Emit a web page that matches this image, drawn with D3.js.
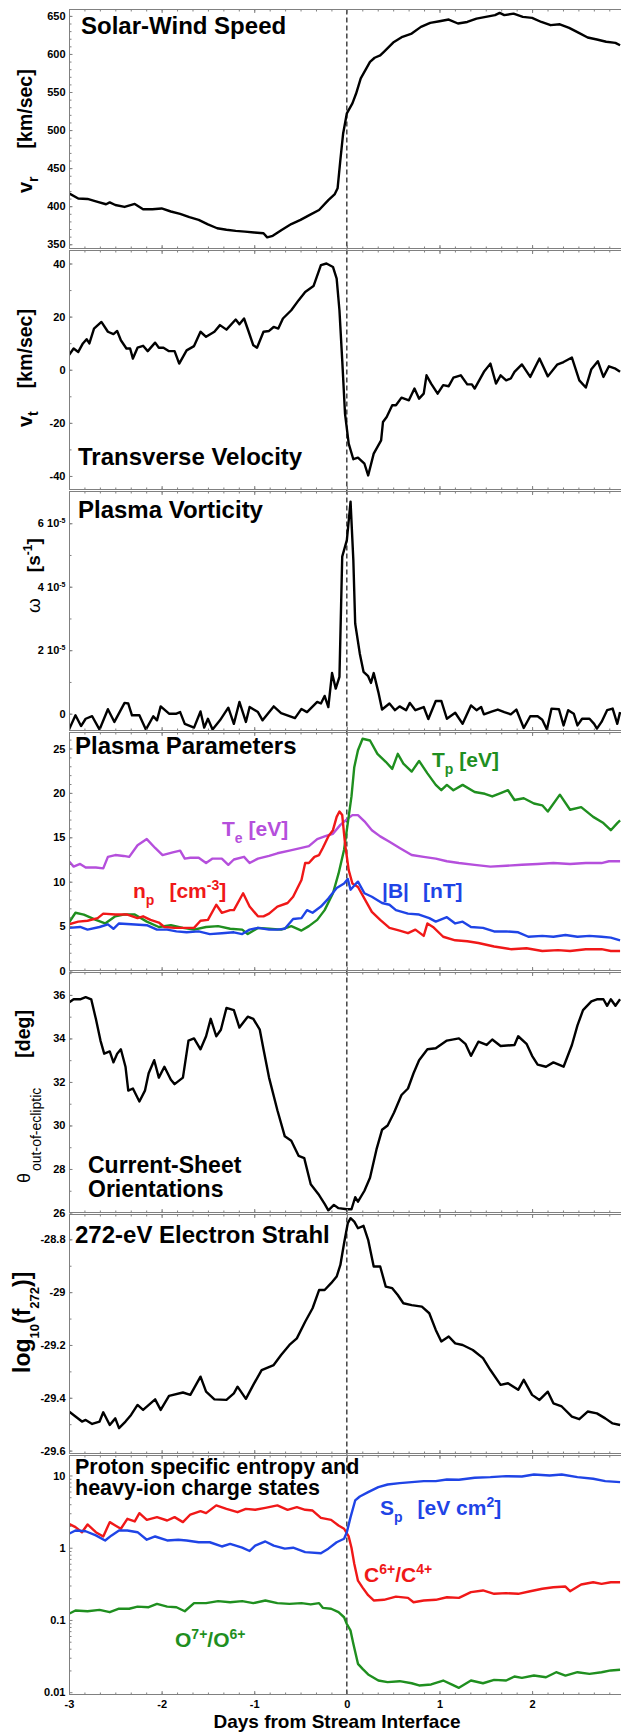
<!DOCTYPE html>
<html>
<head>
<meta charset="utf-8">
<script src="https://cdn.jsdelivr.net/npm/d3@7"></script>
<style>
body { margin: 0; background: #fff; }
svg { display: block; }
svg text { font-family: "Liberation Sans", Arial, Helvetica, sans-serif; font-weight: bold; }
</style>
</head>
<body>
<svg width="621" height="1733"></svg>
<script>
// ---- data, [day from stream interface, value] ----
const speed = [[-3.00,417],[-2.90,410],[-2.80,409.5],[-2.70,406],[-2.60,402.5],[-2.56,405],[-2.50,401.5],[-2.40,399],[-2.29,403],[-2.20,396],[-2.10,396],[-2.00,397],[-1.90,393],[-1.80,390],[-1.70,385.5],[-1.60,382],[-1.50,376],[-1.40,371],[-1.30,369],[-1.20,367.5],[-1.10,366.5],[-1.00,365.5],[-0.90,364.5],[-0.86,359],[-0.80,361],[-0.70,369],[-0.60,376.5],[-0.50,382],[-0.40,388.5],[-0.30,395],[-0.20,408],[-0.13,416],[-0.10,423.5],[-0.07,460.7],[-0.04,495.6],[0.00,522],[0.06,535],[0.10,548],[0.15,568],[0.20,578.7],[0.25,589.6],[0.30,595],[0.36,598],[0.40,602.8],[0.50,615],[0.60,622.5],[0.70,626.8],[0.80,635.6],[0.90,640.8],[1.00,643],[1.10,645.2],[1.20,640],[1.30,642],[1.40,646.5],[1.50,648.7],[1.60,651],[1.65,654],[1.70,651],[1.80,653],[1.90,648.7],[2.00,647.4],[2.10,642],[2.20,637.8],[2.30,639],[2.40,634.3],[2.50,628],[2.60,621.6],[2.70,619],[2.80,616],[2.90,614.6],[2.95,611.5]];

const vt = [[-3.00,5.5],[-2.95,8],[-2.90,6.7],[-2.85,9.9],[-2.81,11.5],[-2.78,9.9],[-2.73,15.5],[-2.65,18],[-2.58,14.3],[-2.52,13.4],[-2.48,14.6],[-2.44,11.1],[-2.38,8],[-2.34,8],[-2.31,4.2],[-2.26,8.3],[-2.20,9],[-2.15,7],[-2.07,10.2],[-2.03,8.3],[-1.98,8.3],[-1.92,7],[-1.86,7],[-1.81,2.3],[-1.73,7.3],[-1.65,8.9],[-1.58,14.3],[-1.52,12.4],[-1.43,14.3],[-1.37,16.8],[-1.30,15.1],[-1.20,18.9],[-1.16,17.1],[-1.11,19.3],[-1.06,14.3],[-1.01,9.2],[-0.97,8.3],[-0.90,14.3],[-0.84,14.6],[-0.79,16.1],[-0.74,15.5],[-0.69,19.3],[-0.60,22.4],[-0.52,26.2],[-0.45,29.3],[-0.36,31.5],[-0.28,39.4],[-0.22,40],[-0.15,38.7],[-0.11,34.3],[-0.08,22.4],[-0.05,3.6],[-0.02,-16.5],[0.02,-27.8],[0.07,-33.7],[0.12,-33.1],[0.19,-35.4],[0.23,-39.8],[0.29,-31.6],[0.37,-26.6],[0.39,-19.7],[0.43,-17.8],[0.49,-13.4],[0.53,-13.4],[0.59,-10.5],[0.67,-11.5],[0.73,-7.1],[0.78,-10.9],[0.83,-9],[0.86,-2.1],[0.91,-5.2],[0.98,-9],[1.04,-5.8],[1.10,-6.2],[1.15,-3],[1.23,-2.1],[1.30,-5.5],[1.35,-5.5],[1.38,-7.1],[1.48,-0.8],[1.55,2.3],[1.61,-5.2],[1.66,-2.1],[1.72,-4],[1.77,-3.3],[1.81,-0.8],[1.89,2],[1.98,-2.7],[2.08,4.2],[2.17,-2.5],[2.27,1.9],[2.34,2.9],[2.43,4.6],[2.51,-4],[2.58,-6.7],[2.64,0.2],[2.71,3.2],[2.77,-2.7],[2.83,1.3],[2.90,0.4],[2.95,-0.8]];

// plasma vorticity in units of 1e-5 s^-1
const vorticity = [[-3.00,-0.5],[-2.93,-0.05],[-2.87,-0.39],[-2.82,-0.16],[-2.75,-0.08],[-2.67,-0.5],[-2.58,0.14],[-2.51,-0.26],[-2.40,0.34],[-2.36,0.32],[-2.32,-0.05],[-2.24,-0.05],[-2.17,-0.5],[-2.09,-0.08],[-2.05,-0.21],[-2.01,0.23],[-1.92,0],[-1.84,0],[-1.80,0.05],[-1.75,-0.32],[-1.65,-0.44],[-1.58,0.07],[-1.54,-0.44],[-1.50,-0.16],[-1.45,-0.5],[-1.37,-0.21],[-1.28,0.19],[-1.22,-0.32],[-1.16,0.37],[-1.09,-0.26],[-1.05,0.21],[-0.96,0.05],[-0.91,-0.21],[-0.79,0.23],[-0.71,0.02],[-0.56,-0.14],[-0.49,0.15],[-0.43,0.05],[-0.32,0.37],[-0.28,0.32],[-0.24,0.56],[-0.20,0.21],[-0.16,1.28],[-0.12,0.79],[-0.08,1.16],[-0.05,4.95],[0.00,5.47],[0.04,6.68],[0.07,4.84],[0.09,2.84],[0.14,1.89],[0.18,1.32],[0.23,1.18],[0.26,0.97],[0.29,1.28],[0.34,0.68],[0.38,0.13],[0.46,0.32],[0.52,0.11],[0.57,0.23],[0.64,0.11],[0.68,0.34],[0.74,0.11],[0.83,0.21],[0.88,-0.17],[0.96,0.4],[1.02,0.4],[1.08,-0.16],[1.17,0.03],[1.25,-0.32],[1.34,0.26],[1.40,0.11],[1.45,0.21],[1.48,-0.02],[1.57,0.07],[1.63,0.13],[1.70,0.05],[1.77,-0.02],[1.83,0.13],[1.91,-0.45],[1.98,-0.08],[2.06,-0.08],[2.11,-0.19],[2.16,-0.5],[2.21,0.16],[2.29,0.14],[2.34,-0.37],[2.39,0.11],[2.45,0],[2.49,-0.37],[2.54,-0.16],[2.62,-0.16],[2.67,-0.32],[2.70,-0.47],[2.75,-0.26],[2.81,0.11],[2.87,0.16],[2.92,-0.32],[2.95,0.05]];

const tp = [[-3.00,5.4],[-2.93,6.5],[-2.84,6.3],[-2.71,5.7],[-2.61,5.3],[-2.50,6.1],[-2.41,6.3],[-2.29,6.3],[-2.16,5.5],[-2.03,4.9],[-1.90,5.1],[-1.77,4.8],[-1.65,4.6],[-1.52,4.9],[-1.39,5.0],[-1.26,4.7],[-1.13,4.6],[-1.07,4.1],[-0.96,4.8],[-0.84,4.7],[-0.71,4.6],[-0.60,5.0],[-0.49,4.5],[-0.41,5.0],[-0.32,5.7],[-0.24,6.8],[-0.15,8.7],[-0.09,10.9],[-0.03,13.6],[0.01,16.6],[0.05,19.6],[0.08,22.9],[0.12,24.8],[0.17,26.1],[0.25,25.9],[0.33,24.4],[0.42,23.5],[0.49,22.7],[0.55,24.4],[0.61,23.3],[0.70,22.4],[0.78,23.6],[0.87,22.2],[0.96,20.9],[1.02,20.3],[1.08,20.9],[1.15,20.3],[1.25,20.9],[1.38,20.1],[1.49,19.9],[1.57,19.6],[1.64,19.9],[1.74,20.3],[1.81,19.2],[1.91,19.4],[2.02,18.8],[2.11,18.6],[2.17,17.9],[2.30,19.8],[2.41,18.1],[2.53,18.4],[2.66,17.3],[2.77,16.6],[2.85,15.8],[2.92,16.6],[2.95,16.9]];

const te = [[-3.00,12.3],[-2.95,11.7],[-2.88,12.0],[-2.82,11.6],[-2.71,11.6],[-2.63,11.5],[-2.58,12.8],[-2.50,13.0],[-2.41,12.9],[-2.35,12.8],[-2.26,14.1],[-2.16,14.8],[-2.07,13.8],[-1.99,13.0],[-1.88,13.3],[-1.80,13.5],[-1.75,12.6],[-1.69,12.7],[-1.60,12.7],[-1.52,12.1],[-1.45,12.6],[-1.35,12.6],[-1.28,11.9],[-1.22,12.5],[-1.11,12.8],[-1.05,12.1],[-0.96,12.6],[-0.84,12.9],[-0.75,13.2],[-0.62,13.5],[-0.49,13.8],[-0.41,14.0],[-0.32,14.8],[-0.24,15.1],[-0.15,15.4],[-0.07,16.4],[0.01,17.1],[0.06,17.5],[0.12,17.5],[0.19,16.8],[0.27,15.8],[0.36,15.1],[0.46,14.5],[0.57,13.8],[0.70,13.0],[0.83,12.8],[0.96,12.6],[1.08,12.3],[1.21,12.1],[1.38,11.9],[1.55,11.7],[1.72,11.8],[1.89,11.9],[2.06,12.0],[2.23,12.1],[2.41,12.0],[2.58,12.1],[2.75,12.1],[2.83,12.3],[2.95,12.3]];

const np = [[-3.00,5.2],[-2.90,5.5],[-2.80,5.6],[-2.69,5.9],[-2.63,6.4],[-2.50,6.3],[-2.37,6.3],[-2.26,5.9],[-2.20,6.1],[-2.12,5.7],[-2.03,5.4],[-1.97,4.9],[-1.86,4.8],[-1.73,4.8],[-1.65,4.8],[-1.58,5.6],[-1.50,5.7],[-1.41,7.4],[-1.35,6.5],[-1.26,6.8],[-1.22,6.8],[-1.12,8.7],[-1.05,7.2],[-0.96,6.1],[-0.90,6.1],[-0.84,6.4],[-0.75,7.2],[-0.64,7.6],[-0.58,8.3],[-0.49,10.2],[-0.45,12.1],[-0.41,12.1],[-0.35,12.8],[-0.30,13.0],[-0.26,13.8],[-0.20,15.1],[-0.15,15.8],[-0.11,17.3],[-0.08,17.9],[-0.05,17.5],[-0.02,14.3],[0.02,11.3],[0.06,9.8],[0.12,9.4],[0.19,8.1],[0.27,6.6],[0.36,5.7],[0.46,4.8],[0.57,4.5],[0.66,4.2],[0.74,4.6],[0.83,3.9],[0.87,5.3],[0.93,4.9],[1.04,3.8],[1.17,3.4],[1.30,3.3],[1.42,3.1],[1.59,2.7],[1.77,2.4],[1.94,2.5],[2.11,2.2],[2.28,2.3],[2.41,2.2],[2.58,2.4],[2.75,2.4],[2.85,2.2],[2.95,2.2]];

const bmag = [[-3.00,4.8],[-2.88,4.9],[-2.80,4.6],[-2.67,4.9],[-2.58,5.2],[-2.52,4.7],[-2.46,5.3],[-2.33,5.2],[-2.16,5.1],[-2.05,4.6],[-1.94,4.6],[-1.84,4.4],[-1.73,4.3],[-1.60,4.4],[-1.48,4.1],[-1.35,4.2],[-1.22,4.3],[-1.13,4.1],[-1.05,4.6],[-0.96,4.8],[-0.84,4.6],[-0.75,4.6],[-0.67,4.7],[-0.58,5.8],[-0.49,5.9],[-0.43,6.8],[-0.37,6.5],[-0.28,7.2],[-0.20,8.1],[-0.11,9.3],[-0.03,9.8],[0.01,10.3],[0.04,9.1],[0.10,9.8],[0.12,10.0],[0.19,8.7],[0.27,8.3],[0.38,7.6],[0.46,7.4],[0.53,6.8],[0.66,6.4],[0.78,6.3],[0.89,5.9],[0.96,5.5],[1.08,6.0],[1.17,5.3],[1.25,5.5],[1.34,4.9],[1.47,4.8],[1.59,4.4],[1.72,4.4],[1.85,4.3],[1.96,3.8],[2.11,3.9],[2.23,3.8],[2.36,4.0],[2.49,3.8],[2.62,3.9],[2.75,3.8],[2.85,3.7],[2.95,3.4]];

const theta = [[-3.00,35.65],[-2.95,35.8],[-2.88,35.8],[-2.82,35.9],[-2.76,35.8],[-2.71,34.9],[-2.66,33.9],[-2.62,33.3],[-2.56,33.4],[-2.52,32.9],[-2.48,33.3],[-2.44,33.5],[-2.39,32.7],[-2.36,31.6],[-2.31,31.7],[-2.24,31.1],[-2.18,31.6],[-2.14,32.4],[-2.08,33.0],[-2.03,32.2],[-1.97,32.7],[-1.90,32.1],[-1.86,31.9],[-1.77,32.2],[-1.71,33.9],[-1.65,34.0],[-1.58,33.5],[-1.52,34.1],[-1.47,34.9],[-1.41,34.1],[-1.36,34.4],[-1.30,35.4],[-1.22,35.3],[-1.16,34.5],[-1.07,35.0],[-1.01,34.9],[-0.94,34.4],[-0.90,33.5],[-0.84,32.2],[-0.75,30.7],[-0.67,29.5],[-0.60,29.3],[-0.52,28.6],[-0.46,28.5],[-0.39,27.3],[-0.30,26.8],[-0.24,26.4],[-0.20,26.1],[-0.14,26.35],[-0.09,26.2],[0.00,26.15],[0.05,26.15],[0.09,26.7],[0.12,26.5],[0.19,27.0],[0.25,27.6],[0.32,28.9],[0.38,29.8],[0.44,30.0],[0.51,30.6],[0.59,31.4],[0.66,31.7],[0.72,32.4],[0.78,33.0],[0.87,33.5],[0.96,33.55],[1.08,33.9],[1.21,34.0],[1.28,33.75],[1.34,33.2],[1.42,33.85],[1.51,33.7],[1.57,33.95],[1.66,33.65],[1.81,33.7],[1.85,34.1],[1.94,33.75],[2.00,33.2],[2.06,32.8],[2.15,32.7],[2.23,32.9],[2.34,32.7],[2.43,33.7],[2.49,34.6],[2.55,35.3],[2.64,35.7],[2.70,35.8],[2.77,35.8],[2.81,35.5],[2.85,35.8],[2.90,35.5],[2.95,35.8]];

const strahl = [[-3.00,-29.452],[-2.93,-29.471],[-2.86,-29.49],[-2.82,-29.484],[-2.75,-29.499],[-2.67,-29.49],[-2.63,-29.455],[-2.56,-29.503],[-2.50,-29.478],[-2.46,-29.515],[-2.39,-29.49],[-2.33,-29.465],[-2.26,-29.427],[-2.20,-29.446],[-2.07,-29.406],[-2.01,-29.446],[-1.92,-29.393],[-1.77,-29.38],[-1.69,-29.389],[-1.58,-29.32],[-1.52,-29.377],[-1.43,-29.406],[-1.30,-29.408],[-1.22,-29.383],[-1.18,-29.358],[-1.09,-29.404],[-1.01,-29.351],[-0.92,-29.295],[-0.79,-29.276],[-0.71,-29.238],[-0.62,-29.2],[-0.54,-29.175],[-0.45,-29.112],[-0.37,-29.061],[-0.30,-28.992],[-0.24,-28.992],[-0.17,-28.966],[-0.11,-28.941],[-0.07,-28.897],[-0.03,-28.815],[0.01,-28.739],[0.04,-28.72],[0.08,-28.733],[0.12,-28.758],[0.18,-28.749],[0.23,-28.802],[0.29,-28.903],[0.36,-28.903],[0.42,-28.979],[0.49,-28.985],[0.55,-29.011],[0.61,-29.042],[0.70,-29.049],[0.81,-29.055],[0.89,-29.08],[0.96,-29.143],[1.02,-29.187],[1.10,-29.168],[1.17,-29.194],[1.25,-29.2],[1.36,-29.219],[1.47,-29.25],[1.55,-29.295],[1.66,-29.351],[1.74,-29.345],[1.85,-29.37],[1.91,-29.332],[2.00,-29.389],[2.08,-29.408],[2.17,-29.377],[2.23,-29.421],[2.32,-29.433],[2.43,-29.471],[2.51,-29.481],[2.60,-29.452],[2.70,-29.459],[2.79,-29.478],[2.87,-29.497],[2.95,-29.503]];

const entropy = [[-3.00,1.56],[-2.93,1.73],[-2.82,1.69],[-2.71,1.48],[-2.61,1.26],[-2.54,1.48],[-2.46,1.73],[-2.37,1.73],[-2.26,1.64],[-2.16,1.29],[-2.07,1.43],[-1.94,1.26],[-1.82,1.29],[-1.73,1.26],[-1.60,1.19],[-1.48,1.19],[-1.35,1.04],[-1.26,1.13],[-1.13,1.0],[-1.05,0.90],[-0.99,1.07],[-0.88,1.22],[-0.79,1.07],[-0.67,0.97],[-0.58,1.0],[-0.45,0.87],[-0.28,0.84],[-0.20,0.97],[-0.11,1.19],[-0.03,1.33],[0.00,1.64],[0.04,2.65],[0.09,4.51],[0.14,5.12],[0.23,5.87],[0.34,6.89],[0.44,7.5],[0.57,7.83],[0.70,8.09],[0.83,8.36],[0.96,8.36],[1.08,8.81],[1.21,8.71],[1.38,9.29],[1.55,9.48],[1.72,9.79],[1.89,9.68],[2.02,10.3],[2.19,10.0],[2.32,10.3],[2.49,9.48],[2.66,9.0],[2.79,8.36],[2.95,8.09]];

const cRatio = [[-3.00,2.14],[-2.93,1.93],[-2.86,1.64],[-2.80,2.1],[-2.71,1.64],[-2.63,1.43],[-2.56,2.26],[-2.50,2.03],[-2.44,1.83],[-2.37,2.51],[-2.29,2.31],[-2.24,3.01],[-2.16,2.43],[-2.05,2.65],[-1.94,2.38],[-1.86,2.65],[-1.77,2.26],[-1.69,2.88],[-1.58,3.21],[-1.52,3.01],[-1.41,3.85],[-1.30,3.45],[-1.18,3.1],[-1.09,3.45],[-0.99,3.35],[-0.88,3.56],[-0.75,3.85],[-0.64,3.35],[-0.54,3.65],[-0.45,3.35],[-0.37,3.27],[-0.28,2.59],[-0.17,2.43],[-0.09,2.03],[-0.03,1.83],[0.02,1.43],[0.05,1.0],[0.08,0.6],[0.12,0.35],[0.17,0.28],[0.23,0.22],[0.29,0.186],[0.40,0.19],[0.53,0.21],[0.66,0.202],[0.72,0.176],[0.83,0.186],[0.96,0.19],[1.08,0.206],[1.21,0.202],[1.34,0.243],[1.47,0.256],[1.59,0.23],[1.72,0.235],[1.85,0.23],[1.98,0.25],[2.11,0.27],[2.23,0.284],[2.36,0.29],[2.41,0.25],[2.53,0.31],[2.66,0.333],[2.75,0.316],[2.85,0.333],[2.95,0.333]];

const oRatio = [[-3.00,0.122],[-2.93,0.135],[-2.80,0.132],[-2.67,0.138],[-2.56,0.128],[-2.46,0.143],[-2.35,0.143],[-2.26,0.153],[-2.14,0.15],[-2.05,0.167],[-1.94,0.153],[-1.84,0.15],[-1.75,0.132],[-1.65,0.171],[-1.52,0.171],[-1.39,0.182],[-1.26,0.176],[-1.13,0.182],[-1.01,0.171],[-0.88,0.186],[-0.75,0.171],[-0.62,0.167],[-0.49,0.171],[-0.39,0.164],[-0.30,0.171],[-0.26,0.147],[-0.17,0.143],[-0.09,0.128],[-0.03,0.109],[0.00,0.088],[0.04,0.071],[0.07,0.047],[0.12,0.0247],[0.17,0.021],[0.23,0.0176],[0.34,0.0145],[0.44,0.0138],[0.57,0.0142],[0.70,0.0133],[0.78,0.0124],[0.91,0.0128],[1.04,0.0145],[1.13,0.0128],[1.21,0.0115],[1.34,0.0145],[1.47,0.0133],[1.59,0.0148],[1.72,0.0145],[1.81,0.0165],[1.89,0.0158],[2.02,0.017],[2.15,0.0161],[2.26,0.0189],[2.36,0.017],[2.49,0.0189],[2.62,0.0179],[2.75,0.0189],[2.85,0.02],[2.95,0.0204]];

// tick labels
const dayTicks = [-3, -2, -1, 0, 1, 2];
const speedTicks = [350, 400, 450, 500, 550, 600, 650];
const vtTicks = [-40, -20, 0, 20, 40];
const vortTicks = [0, 2, 4, 6];
const plasmaTicks = [0, 5, 10, 15, 20, 25];
const thetaTicks = [26, 28, 30, 32, 34, 36];
const strahlTicks = [-29.6, -29.4, -29.2, -29, -28.8];
const ratioTicks = [0.01, 0.1, 1, 10];

const GREEN = '#1f8f1f', RED = '#f01818', BLUE = '#1f44e6', PURPLE = '#b54fdc';
const grey = '#808080';

const svg = d3.select('svg');
const x = d3.scaleLinear().domain([-3, 2.96]).range([69, 621]);
const xMinor = d3.range(-18, 18).map(i => i / 6);

const panels = [
  {top: 9.5, bottom: 248.5, y: d3.scaleLinear().domain([344.4, 658.4]), major: speedTicks, minor: d3.range(350, 651, 10), lines: [[speed, '#000']]},
  {top: 250.5, bottom: 489.5, y: d3.scaleLinear().domain([-45.1, 44.9]), major: vtTicks, minor: d3.range(-40, 41, 10), lines: [[vt, '#000']]},
  {top: 491.5, bottom: 730.5, y: d3.scaleLinear().domain([-0.53, 7.0]), major: vortTicks, minor: d3.range(0, 7, 1), lines: [[vorticity, '#000']], sci: true},
  {top: 732.5, bottom: 970.5, y: d3.scaleLinear().domain([0, 26.8]), major: plasmaTicks, minor: d3.range(0, 27, 1), lines: [[te, PURPLE], [tp, GREEN], [np, RED], [bmag, BLUE]]},
  {top: 972.5, bottom: 1212.5, y: d3.scaleLinear().domain([26, 37.03]), major: thetaTicks, minor: d3.range(26, 37.5, 1), lines: [[theta, '#000']]},
  {top: 1214.5, bottom: 1453.5, y: d3.scaleLinear().domain([-29.611, -28.706]), major: strahlTicks, minor: d3.range(-296, -287).map(v => v / 10), lines: [[strahl, '#000']]},
  {top: 1455.5, bottom: 1694.5, y: d3.scaleLog().domain([0.00929, 18.9]), major: ratioTicks,
   minor: [0.01, 0.1, 1].flatMap(b => d3.range(2, 10).map(k => +(k * b).toPrecision(2))), lines: [[oRatio, GREEN], [cRatio, RED], [entropy, BLUE]]}
];

const defs = svg.append('defs');

// dashed stream-interface line
svg.append('line')
  .attr('x1', x(0)).attr('x2', x(0))
  .attr('y1', panels[0].top).attr('y2', panels[6].bottom)
  .attr('stroke', '#000').attr('stroke-width', 1.1)
  .attr('stroke-dasharray', '5,3');

function styleAxis(g) {
  g.select('.domain').remove();
  g.selectAll('line').attr('stroke', grey);
  g.selectAll('text').attr('font-family', null).attr('font-size', 11).attr('fill', '#000');
  g.attr('font-family', null);
}

panels.forEach((p, i) => {
  p.y.range([p.bottom, p.top]);
  const g = svg.append('g');

  defs.append('clipPath').attr('id', 'clip' + i)
    .append('rect').attr('x', 69).attr('y', p.top).attr('width', 560).attr('height', p.bottom - p.top);

  const line = d3.line().x(d => x(d[0])).y(d => p.y(d[1]));
  p.lines.forEach(([data, color]) => {
    g.append('path')
      .datum(data)
      .attr('clip-path', `url(#clip${i})`)
      .attr('fill', 'none')
      .attr('stroke', color)
      .attr('stroke-width', 2.4)
      .attr('stroke-linejoin', 'round')
      .attr('d', line);
  });

  // frame
  g.append('line').attr('x1', 69).attr('x2', 625).attr('y1', p.top).attr('y2', p.top).attr('stroke', grey);
  g.append('line').attr('x1', 69).attr('x2', 625).attr('y1', p.bottom).attr('y2', p.bottom).attr('stroke', grey);
  g.append('line').attr('x1', 69.5).attr('x2', 69.5).attr('y1', p.top).attr('y2', p.bottom).attr('stroke', grey);

  // x ticks, pointing inward on top and bottom edges
  g.append('g').attr('transform', `translate(0,${p.top})`)
    .call(d3.axisTop(x).tickValues(xMinor).tickSize(-2).tickSizeOuter(0).tickFormat(''))
    .call(styleAxis);
  g.append('g').attr('transform', `translate(0,${p.top})`)
    .call(d3.axisTop(x).tickValues(dayTicks).tickSize(-3.5).tickSizeOuter(0).tickFormat(''))
    .call(styleAxis);
  g.append('g').attr('transform', `translate(0,${p.bottom})`)
    .call(d3.axisBottom(x).tickValues(xMinor).tickSize(-2).tickSizeOuter(0).tickFormat(''))
    .call(styleAxis);
  const last = i === panels.length - 1;
  g.append('g').attr('transform', `translate(0,${p.bottom})`)
    .call(d3.axisBottom(x).tickValues(dayTicks).tickSize(-3.5).tickSizeOuter(0).tickPadding(6)
      .tickFormat(last ? d => String(d) : ''))
    .call(styleAxis);

  // y ticks
  g.append('g').attr('transform', 'translate(69.5,0)')
    .call(d3.axisLeft(p.y).tickValues(p.minor).tickSize(-2).tickSizeOuter(0).tickFormat(''))
    .call(styleAxis);
  const yAxis = g.append('g').attr('transform', 'translate(69.5,0)')
    .call(d3.axisLeft(p.y).tickValues(p.major).tickSize(-3).tickSizeOuter(0).tickPadding(4).tickFormat(d => String(d)))
    .call(styleAxis);

  if (p.sci) {
    yAxis.selectAll('.tick text').each(function(d) {
      if (d === 0) return;
      const t = d3.select(this).text(null);
      t.append('tspan').text(d + ' 10');
      t.append('tspan').attr('font-size', 7).attr('dy', '-4').text('-5');
    });
  }
});

// rich text helper: parts = [{t, size, dx, dy, w}]
function rich(xp, yp, parts, opts = {}) {
  const t = svg.append('text')
    .attr('transform', `translate(${xp},${yp})` + (opts.rotate ? ' rotate(-90)' : ''))
    .attr('fill', opts.color || '#000');
  parts.forEach(p => {
    const s = t.append('tspan').text(p.t);
    if (p.size) s.attr('font-size', p.size);
    if (p.dx) s.attr('dx', p.dx);
    if (p.dy) s.attr('dy', p.dy);
    if (p.w) s.attr('font-weight', p.w);
  });
  return t;
}

// panel titles
const titles = [
  ['Solar-Wind Speed', 81, 33.5, 24],
  ['Transverse Velocity', 78, 465, 24],
  ['Plasma Vorticity', 78, 518, 24],
  ['Plasma Parameters', 75, 754, 24],
  ['Current-Sheet', 88, 1173, 23],
  ['Orientations', 88, 1197, 23],
  ['272-eV Electron Strahl', 75, 1243, 24],
  ['Proton specific entropy and', 75, 1474, 21.5],
  ['heavy-ion charge states', 75, 1495, 21.5]
];
titles.forEach(([s, tx, ty, fs]) => rich(tx, ty, [{t: s, size: fs}]));

// y-axis labels (rotated)
rich(32, 193, [{t: 'v', size: 20}, {t: 'r', size: 14, dy: 6}, {t: '[km/sec]', size: 19.5, dy: -6, dx: 28}], {rotate: true});
rich(32, 427, [{t: 'v', size: 20}, {t: 't', size: 14, dy: 6}, {t: '[km/sec]', size: 19.5, dy: -6, dx: 23}], {rotate: true});
rich(40, 613, [{t: 'ω', size: 19, w: 'normal'}, {t: '[s', size: 19, dx: 26}, {t: '-1', size: 12, dy: -8}, {t: ']', size: 19, dy: 8}], {rotate: true});
rich(30, 1183, [{t: 'θ', size: 18, w: 'normal'}, {t: 'out-of-ecliptic', size: 14, w: 'normal', dy: 11, dx: 2}, {t: '[deg]', size: 19.5, dy: -11, dx: 30}], {rotate: true});
rich(29.5, 1373, [{t: 'log', size: 23}, {t: '10', size: 13, dy: 9}, {t: '(f', size: 23, dy: -9}, {t: '272', size: 13, dy: 9}, {t: ')]', size: 23, dy: -9}], {rotate: true});

// series labels, plasma parameters
rich(432, 767, [{t: 'T', size: 21}, {t: 'p', size: 14, dy: 7}, {t: ' [eV]', size: 21, dy: -7}], {color: GREEN});
rich(222, 836, [{t: 'T', size: 21}, {t: 'e', size: 14, dy: 7}, {t: ' [eV]', size: 21, dy: -7}], {color: PURPLE});
rich(133, 898, [{t: 'n', size: 21}, {t: 'p', size: 14, dy: 7}, {t: '[cm', size: 21, dy: -7, dx: 15}, {t: '-3', size: 14, dy: -8}, {t: ']', size: 21, dy: 8}], {color: RED});
rich(382, 898, [{t: '|B|', size: 21}, {t: '[nT]', size: 21, dx: 14}], {color: BLUE});

// series labels, entropy and charge states
rich(380, 1515, [{t: 'S', size: 21}, {t: 'p', size: 14, dy: 7}, {t: '[eV cm', size: 21, dy: -7, dx: 15}, {t: '2', size: 14, dy: -8}, {t: ']', size: 21, dy: 8}], {color: BLUE});
rich(364, 1582, [{t: 'C', size: 21}, {t: '6+', size: 14, dy: -8}, {t: '/C', size: 21, dy: 8}, {t: '4+', size: 14, dy: -8}], {color: RED});
rich(175, 1647, [{t: 'O', size: 21}, {t: '7+', size: 14, dy: -8}, {t: '/O', size: 21, dy: 8}, {t: '6+', size: 14, dy: -8}], {color: GREEN});

// x-axis title
svg.append('text')
  .attr('x', 337).attr('y', 1728)
  .attr('text-anchor', 'middle')
  .attr('font-size', 19)
  .text('Days from Stream Interface');
</script>
</body>
</html>
